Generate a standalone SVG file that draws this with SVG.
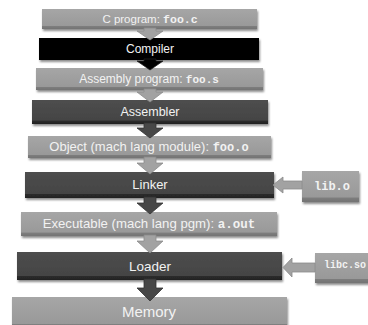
<svg xmlns="http://www.w3.org/2000/svg" width="368" height="325" viewBox="0 0 368 325">
<defs>
<filter id="sh" x="-10%" y="-30%" width="120%" height="180%">
<feDropShadow dx="1" dy="2" stdDeviation="1.2" flood-color="#000" flood-opacity="0.45"/>
</filter>
<linearGradient id="gl" x1="0" y1="0" x2="0" y2="1">
<stop offset="0" stop-color="#a6a6a6"/>
<stop offset="0.85" stop-color="#999"/>
<stop offset="0.86" stop-color="#7e7e7e"/>
<stop offset="1" stop-color="#737373"/>
</linearGradient>
<linearGradient id="gd" x1="0" y1="0" x2="0" y2="1">
<stop offset="0" stop-color="#4e4e4e"/>
<stop offset="0.85" stop-color="#444"/>
<stop offset="0.86" stop-color="#2c2c2c"/>
<stop offset="1" stop-color="#222"/>
</linearGradient>
<linearGradient id="gb" x1="0" y1="0" x2="0" y2="1">
<stop offset="0" stop-color="#050505"/>
<stop offset="1" stop-color="#000"/>
</linearGradient>
</defs>
<style>
.lt{fill:url(#gl);filter:url(#sh)}
.dk{fill:url(#gd);filter:url(#sh)}
.bk{fill:url(#gb);filter:url(#sh)}
.t{font-family:"Liberation Sans",Arial,sans-serif;fill:#f2f2f2;text-anchor:middle}
.m{font-family:"Liberation Mono","Courier New",monospace;font-weight:bold}
.al{fill:#a2a2a2;stroke:#8a8a8a;stroke-width:0.8}
.ab{fill:#000;stroke:#222;stroke-width:0.8}
.ad{fill:#474747;stroke:#333;stroke-width:0.8}
</style>
<g id="cprog"><rect class="lt" x="42" y="9" width="215" height="20"/><text class="t" x="150" y="23" font-size="11.5">C program: <tspan class="m">foo.c</tspan></text></g>
<g id="compiler"><rect class="bk" x="39" y="38" width="220" height="22"/><text class="t" x="150" y="53" font-size="12" fill="#fff">Compiler</text></g>
<g id="asmprog"><rect class="lt" x="36" y="68" width="227" height="22"/><text class="t" x="149" y="83" font-size="12">Assembly program: <tspan class="m" font-size="11">foo.s</tspan></text></g>
<g id="assembler"><rect class="dk" x="32" y="100" width="236" height="24"/><text class="t" x="150" y="116" font-size="12.5">Assembler</text></g>
<g id="object"><rect class="lt" x="28" y="136" width="243" height="22"/><text class="t" x="149" y="151" font-size="13">Object (mach lang module): <tspan class="m" font-size="12">foo.o</tspan></text></g>
<g id="linker"><rect class="dk" x="25" y="172" width="249" height="26"/><text class="t" x="150" y="189" font-size="13">Linker</text></g>
<g id="libo"><rect class="lt" x="302" y="171" width="57" height="31"/><text class="t m" x="332" y="190" font-size="12">lib.o</text></g>
<g id="executable"><rect class="lt" x="21" y="212" width="256" height="24"/><text class="t" x="149" y="228" font-size="13.2">Executable (mach lang pgm): <tspan class="m" font-size="12.5">a.out</tspan></text></g>
<g id="loader"><rect class="dk" x="17" y="252" width="265" height="28"/><text class="t" x="150" y="271" font-size="13.5">Loader</text></g>
<g id="libcso"><rect class="lt" x="315" y="253" width="55" height="30"/><text class="t m" x="345" y="268" font-size="10">libc.so</text></g>
<g id="memory"><rect class="lt" x="12" y="297" width="275" height="32"/><text class="t" x="149" y="317" font-size="15">Memory</text></g>
<g id="connectors">
<polygon class="al" points="144,28 156,28 156,31 163,31 150,40 137,31 144,31"/>
<polygon class="ab" points="144,59 156,59 156,61 163,61 150,70 137,61 144,61"/>
<polygon class="al" points="144,89 156,89 156,92 163,92 150,102 137,92 144,92"/>
<polygon class="ad" points="144,123 156,123 156,128 163,128 150,138 137,128 144,128"/>
<polygon class="al" points="144,157 156,157 156,163 163,163 150,174 137,163 144,163"/>
<polygon class="ad" points="144,197 156,197 156,203 163,203 150,214 137,203 144,203"/>
<polygon class="al" points="144,235 156,235 156,241 163,241 150,253 137,241 144,241"/>
<polygon class="ad" points="144,279 156,279 156,288 163,288 150,301 137,288 144,288"/>
<polygon class="al" points="302,181 283,181 283,177 273,185 283,193 283,189 302,189"/>
<polygon class="al" points="315,263 292,263 292,258 283,267.5 292,277 292,272 315,272"/>
</g>
</svg>
